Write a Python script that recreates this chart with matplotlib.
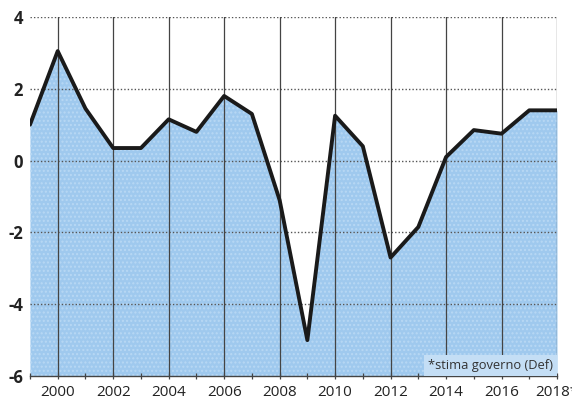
import matplotlib
matplotlib.use("Agg")
import matplotlib.pyplot as plt
import numpy as np

years = [1999, 2000, 2001, 2002, 2003, 2004, 2005, 2006, 2007, 2008, 2009,
         2010, 2011, 2012, 2013, 2014, 2015, 2016, 2017, 2018]
values = [1.0, 3.05, 1.45, 0.35, 0.35, 1.15, 0.8, 1.8, 1.3, -1.1, -5.0,
          1.25, 0.4, -2.7, -1.85, 0.1, 0.85, 0.75, 1.4, 1.4]
xtick_years = [2000, 2002, 2004, 2006, 2008, 2010, 2012, 2014, 2016, 2018]
xtick_labels = ["2000", "2002", "2004", "2006", "2008", "2010", "2012", "2014", "2016", "2018*"]
ytick_vals = [-6, -4, -2, 0, 2, 4]
note = "*stima governo (Def)"

plt.rcParams['font.family'] = ['Open Sans', 'DejaVu Sans']

fig = plt.figure(figsize=(5.72, 4.0), dpi=100)
ax = fig.add_axes([0.0524, 0.06, 0.9214, 0.8975])

ax.set_xlim(1999, 2018)
ax.set_ylim(-6, 4)

ax.fill_between(years, values, -6, color="#9fc9ee", linewidth=0, zorder=1)
ax.fill_between(years, values, -6, facecolor="none", edgecolor="#b8d8f4",
                hatch="....", linewidth=0, zorder=1.1)

for y in ytick_vals[1:]:
    ax.axhline(y, color="#555555", linestyle=(0, (1, 1.5)), linewidth=1.0, zorder=2)
for x in xtick_years:
    ax.axvline(x, color="#444444", linewidth=0.9, zorder=2)

ax.plot(years, values, color="#1a1a1a", linewidth=2.8, solid_joinstyle="round",
        solid_capstyle="round", zorder=3)

for s in ["top", "right", "left"]:
    ax.spines[s].set_visible(False)
ax.spines["bottom"].set_color("#444444")
ax.spines["bottom"].set_linewidth(1.0)
ax.spines["bottom"].set_zorder(4)

ax.set_xticks(xtick_years)
ax.set_xticklabels(xtick_labels, fontsize=11, color="#222222")
ax.set_xticks(years, minor=True)
ax.tick_params(axis="x", which="both", direction="inout", length=5, width=0.9,
               color="#444444", pad=4)

ax.set_yticks(ytick_vals)
ax.set_yticklabels([str(v) for v in ytick_vals], fontsize=12, fontweight="bold",
                   color="#222222")
ax.tick_params(axis="y", length=0, pad=5)
for lbl in ax.get_yticklabels():
    lbl.set_horizontalalignment("right")

ax.text(2017.85, -5.7, note, fontsize=9.3, color="#333333", ha="right", va="center",
        zorder=5,
        bbox=dict(boxstyle="square,pad=0.3", facecolor="#c4def5", edgecolor="none"))

fig.savefig("out.png", dpi=100)
